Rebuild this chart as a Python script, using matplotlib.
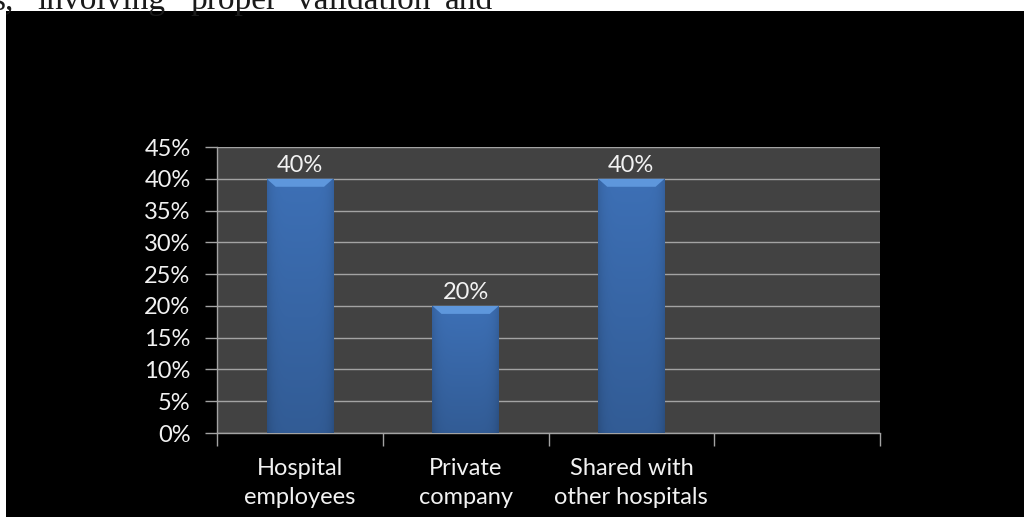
import numpy as np
import matplotlib
matplotlib.use('Agg')
import matplotlib.pyplot as plt
from matplotlib.patches import Rectangle, Polygon
from matplotlib.ticker import FuncFormatter

# --- data ---
categories = ['Hospital\nemployees', 'Private\ncompany', 'Shared with\nother hospitals', '']
values = [40, 20, 40, None]
y_ticks = list(range(0, 50, 5))

# words of the body text line above the chart, with their left edges (px)
header_words = ['s,', 'involving', 'proper', 'validation', 'and']
header_x = [-7, 37, 190, 297, 445]

W, H = 1024, 517
fig = plt.figure(figsize=(W / 100, H / 100), dpi=100)
fig.patch.set_facecolor('white')

# page text, partly hidden behind the chart frame
for word, x in zip(header_words, header_x):
    fig.text(x / W, 1 - 9 / H, word, ha='left', va='baseline',
             fontsize=24, family='Liberation Serif', color='#1a1a1a')

# black chart frame
fig.patches.append(Rectangle((6 / W, 0), 1 - 6 / W, 1 - 11 / H,
                             transform=fig.transFigure, facecolor='black',
                             edgecolor='none', zorder=1))

ax = fig.add_axes([217 / W, (H - 433) / H, (880 - 217) / W, (433 - 147) / H])
ax.set_zorder(2)
ax.set_facecolor('#424242')

font = 'Lato'
fsize = 17
grid_c = '#a3a3a3'
text_c = '#f2f2f2'

x = np.arange(len(categories))
bar_w = 0.4
heights = [v if v is not None else 0 for v in values]
bars = ax.bar(x, heights, width=bar_w, color='#3a6cb0', zorder=3)

ax.set_xlim(-0.5, len(categories) - 0.5)
ax.set_ylim(0, 45)

# shaded fill and bevelled top on every bar
gy = np.linspace(0, 1, 200)[:, None]
gx = np.linspace(-1, 1, 60)[None, :]
shade = 1.0 - 0.18 * gy - 0.12 * gx ** 6
base = np.array([0x3d, 0x70, 0xb6]) / 255
img = np.clip(shade[..., None] * base, 0, 1)

px_x = (len(categories)) / (880 - 217)
px_y = 45 / (433 - 147)
for rect, v in zip(bars, values):
    if v is None:
        continue
    x0, w, h = rect.get_x(), rect.get_width(), rect.get_height()
    im = ax.imshow(img, extent=(x0, x0 + w, 0, h), origin='upper',
                   aspect='auto', zorder=3.5, interpolation='bilinear')
    im.set_clip_path(rect)
    dx, dy = 9 * px_x, 8 * px_y
    ax.add_patch(Polygon([(x0, h), (x0 + w, h), (x0 + w - dx, h - dy),
                          (x0 + dx, h - dy)], closed=True,
                         facecolor='#5e97dc', edgecolor='none', zorder=4))
    ax.annotate(f'{v}%', (x0 + w / 2, h), xytext=(0, 2),
                textcoords='offset points', ha='center', va='bottom',
                color=text_c, fontsize=fsize, family=font, zorder=5)

ax.set_xlim(-0.5, len(categories) - 0.5)
ax.set_ylim(0, 45)

ax.set_yticks(y_ticks)
ax.yaxis.set_major_formatter(FuncFormatter(lambda v, p: f'{v:.0f}%'))
ax.grid(axis='y', color=grid_c, linewidth=1.0, zorder=2)
ax.set_axisbelow(True)

ax.set_xticks(np.arange(len(categories) + 1) - 0.5, minor=False)
ax.set_xticklabels([])
ax.set_xticks(x, minor=True)
ax.set_xticklabels(categories, minor=True, linespacing=1.5)
ax.tick_params(axis='x', which='minor', length=0, pad=18,
               labelsize=fsize, labelcolor=text_c)
ax.tick_params(axis='x', which='major', length=9, color=grid_c, width=1)
ax.tick_params(axis='y', length=9, color=grid_c, width=1, pad=10,
               labelsize=fsize, labelcolor=text_c)
for lab in ax.get_xticklabels(minor=True) + ax.get_yticklabels():
    lab.set_family(font)

for side in ('top', 'right'):
    ax.spines[side].set_visible(False)
for side in ('left', 'bottom'):
    ax.spines[side].set_color(grid_c)
    ax.spines[side].set_linewidth(1.0)

fig.savefig('out.png', dpi=100, facecolor=fig.get_facecolor())
